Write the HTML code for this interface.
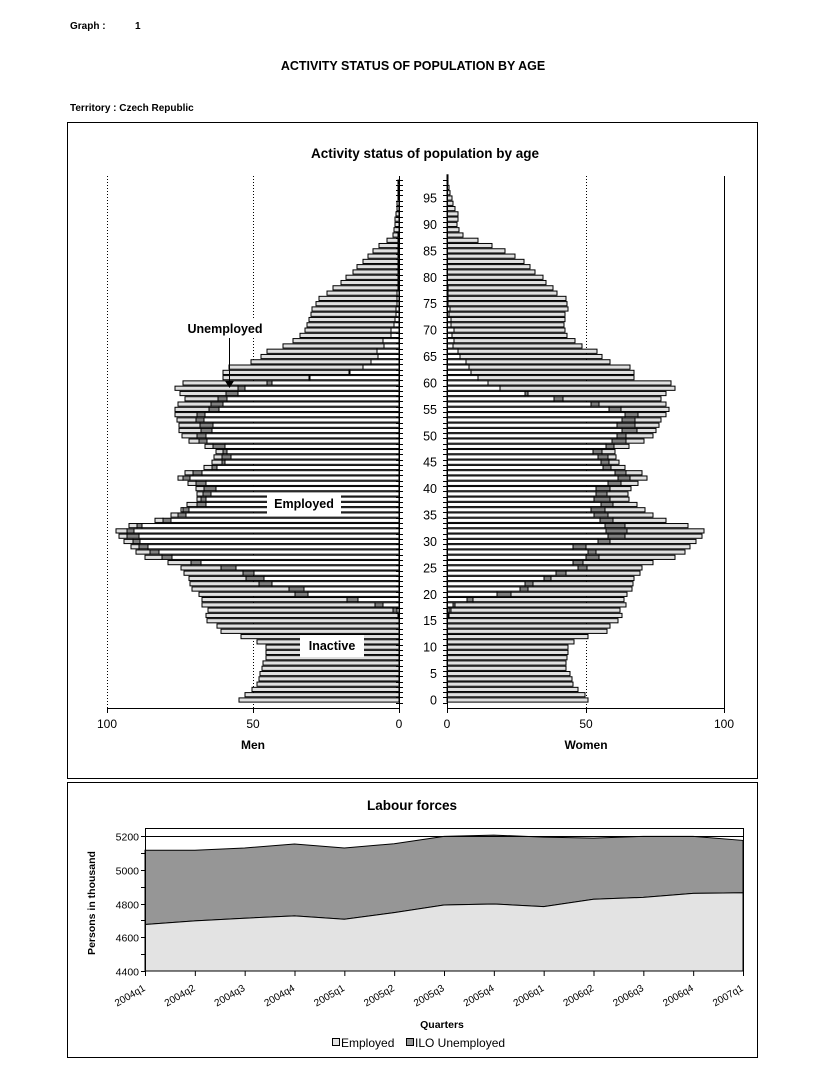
<!DOCTYPE html>
<html><head><meta charset="utf-8">
<style>
body{margin:0;background:#fff;width:824px;height:1068px;overflow:hidden;font-family:"Liberation Sans",Arial,sans-serif}
svg{position:absolute;left:0;top:0}
</style></head><body>
<svg id="s" width="824" height="1068" xmlns="http://www.w3.org/2000/svg" font-family="Liberation Sans, Arial, sans-serif">
<text x="70" y="29" font-size="10" font-weight="bold">Graph :</text>
<text x="135" y="29" font-size="10" font-weight="bold">1</text>
<text x="413" y="70" font-size="12.5" font-weight="bold" text-anchor="middle">ACTIVITY STATUS OF POPULATION BY AGE</text>
<text x="70" y="111" font-size="10" font-weight="bold">Territory :   Czech Republic</text>
<rect x="67.5" y="122.5" width="690" height="656" fill="none" stroke="#000"/>
<text x="425" y="158" font-size="13.5" font-weight="bold" text-anchor="middle">Activity status of population by age</text>
<line x1="107.5" y1="176" x2="107.5" y2="708" stroke="#000" stroke-dasharray="1,2"/>
<line x1="253.5" y1="176" x2="253.5" y2="708" stroke="#000" stroke-dasharray="1,2"/>
<line x1="586.5" y1="176" x2="586.5" y2="708" stroke="#000" stroke-dasharray="1,2"/>
<line x1="724.5" y1="176" x2="724.5" y2="708" stroke="#000"/>
<g id="bars"></g>
<g id="ax"></g>
<line x1="107" y1="708.5" x2="399" y2="708.5" stroke="#000"/>
<line x1="447" y1="708.5" x2="725" y2="708.5" stroke="#000"/>
<g stroke="#000"><line x1="107.5" y1="708" x2="107.5" y2="713"/><line x1="253.5" y1="708" x2="253.5" y2="713"/><line x1="399.5" y1="708" x2="399.5" y2="713"/><line x1="447.5" y1="708" x2="447.5" y2="713"/><line x1="586.5" y1="708" x2="586.5" y2="713"/><line x1="724.5" y1="708" x2="724.5" y2="713"/></g>
<g font-size="12" text-anchor="middle"><text x="107" y="728">100</text><text x="253" y="728">50</text><text x="399" y="728">0</text><text x="447" y="728">0</text><text x="586" y="728">50</text><text x="724" y="728">100</text></g>
<text x="253" y="749" font-size="12" font-weight="bold" text-anchor="middle">Men</text>
<text x="586" y="749" font-size="12" font-weight="bold" text-anchor="middle">Women</text>
<rect x="182" y="319" width="86" height="18" fill="#fff"/>
<text x="225" y="333" font-size="12.5" font-weight="bold" text-anchor="middle">Unemployed</text>
<line x1="229.5" y1="338" x2="229.5" y2="382" stroke="#000"/>
<polygon points="225,381 234,381 229.5,388" fill="#000"/>
<rect x="267" y="493" width="74" height="21" fill="#fff"/>
<text x="304" y="508" font-size="12.5" font-weight="bold" text-anchor="middle">Employed</text>
<rect x="300" y="635" width="64" height="22" fill="#fff"/>
<text x="332" y="650" font-size="12.5" font-weight="bold" text-anchor="middle">Inactive</text>

<rect x="67.5" y="782.5" width="690" height="275" fill="none" stroke="#000"/>
<text x="412" y="810" font-size="13.5" font-weight="bold" text-anchor="middle">Labour forces</text>
<g id="lf"></g>
</svg>
<script>
var NS="http://www.w3.org/2000/svg";
function el(p,t,a,txt){var e=document.createElementNS(NS,t);for(var k in a)e.setAttribute(k,a[k]);if(txt!=null)e.textContent=txt;p.appendChild(e);return e;}
var mT=[160,154,147,142,140,139,137,136,133,133,133,142,158,178,182,192,193,191,197,197,200,207,209,210,215,218,231,254,263,268,275,280,283,270,244,228,218,212,202,202,203,211,221,214,195,187,185,183,194,210,217,220,220,222,224,224,221,214,219,224,216,176,176,170,148,138,132,116,106,99,94,92,90,88,87,83,80,72,66,58,53,46,42,36,31,26,20,12,6,5,4,4,3,2,2,1,1,1,1,0,0];
var mE={16:1,17:2,18:16,19:41,20:91,21:95,22:127,23:135,24:145,25:163,26:198,27:227,28:240,29:251,30:259,31:260,32:265,33:257,34:228,35:213,36:210,37:193,38:193,39:188,40:183,41:193,42:209,43:197,44:182,45:174,46:168,47:172,48:174,49:192,50:193,51:187,52:186,53:195,54:194,55:180,56:176,57:172,58:161,59:154,60:127,61:89,62:49,63:36,64:28,65:21,66:22,67:15,68:16,69:8,70:8,71:5,72:4,73:3,74:3,75:2,76:2,77:2,78:1,79:1,80:1,81:1,82:1,83:1,84:1,85:1,86:1,87:1,88:1};
var mU={17:6,18:24,19:52,20:104,21:110,22:140,23:153,24:156,25:178,26:208,27:237,28:249,29:260,30:266,31:272,32:272,33:262,34:236,35:221,36:216,37:202,38:198,39:196,40:195,41:203,42:216,43:206,44:187,45:177,46:177,47:176,48:186,49:200,50:202,51:198,52:199,53:203,54:202,55:190,56:188,57:181,58:173,59:161,60:132,61:90,62:50};
var wT=[141,138,131,126,125,123,119,119,120,121,121,127,141,160,163,171,175,173,179,177,180,185,186,187,193,195,206,228,238,243,249,255,257,241,219,206,198,190,182,181,184,191,200,195,178,172,169,168,182,197,206,209,212,214,219,222,219,214,219,228,224,187,187,183,163,155,150,135,128,120,118,117,118,118,121,120,119,110,106,99,96,88,83,77,68,58,45,31,16,12,10,11,11,8,6,5,3,2,1,1,0];
var wE={16:1,17:2,18:6,19:20,20:50,21:73,22:78,23:97,24:109,25:131,26:126,27:139,28:141,29:126,30:151,31:161,32:159,33:158,34:153,35:147,36:144,37:154,38:147,39:149,40:149,41:161,42:171,43:168,44:156,45:154,46:151,47:146,48:159,49:165,50:170,51:175,52:170,53:175,54:178,55:162,56:144,57:107,58:78,59:53,60:41,61:31,62:24,63:22,64:19,65:13,66:11,67:6,68:7,69:5,70:7,71:4,72:4,73:2,74:3,75:1,76:1,77:1,78:1};
var wU={16:2,17:4,18:8,19:26,20:64,21:81,22:86,23:104,24:119,25:140,26:136,27:152,28:149,29:139,30:163,31:178,32:180,33:178,34:166,35:161,36:158,37:166,38:163,39:160,40:163,41:174,42:183,43:179,44:164,45:162,46:161,47:155,48:167,49:179,50:179,51:190,52:188,53:188,54:191,55:174,56:152,57:116,58:81};
var g=document.getElementById('bars'),BH=4.2;
function seg(x1,x2,y,f){if(x2-x1<0.5)return;el(g,'rect',{x:x1,y:y,width:x2-x1,height:BH,fill:f,stroke:'#000','stroke-width':1});}
for(var a=0;a<=100;a++){
 var yc=700-5.284*a,y=yc-BH/2;
 var T=mT[a],E=mE[a]||0,U=mU[a]||E;
 if(T>0){seg(399-T,399-U,y,'#e0e0e0');seg(399-U,399-E,y,'#808080');seg(399-E,399,y,'#fff');}
 T=wT[a];E=wE[a]||0;U=wU[a]||E;
 if(T>0){seg(447+U,447+T,y,'#e0e0e0');seg(447+E,447+U,y,'#808080');seg(447,447+E,y,'#fff');}
}
var ax=document.getElementById('ax');
el(ax,'line',{x1:399.5,y1:176,x2:399.5,y2:708,stroke:'#000'});
el(ax,'line',{x1:447.5,y1:176,x2:447.5,y2:708,stroke:'#000'});
for(var a=0;a<=99;a++){var yy=Math.round(700-5.284*a+2.64)+0.5;
 el(ax,'line',{x1:396,y1:yy,x2:403,y2:yy,stroke:'#000'});
 el(ax,'line',{x1:443,y1:yy,x2:448,y2:yy,stroke:'#000'});
 if(a%5==0)el(ax,'text',{x:437,y:700-5.284*a+4.5,'font-size':12.5,'text-anchor':'end'},String(a));}
var lf=document.getElementById('lf');
var X0=145,X1=743;function Y(v){return 971-(v-4400)*0.16875;}
var emp=[924.5,920.9,918.2,915.9,919.2,912.6,905.0,904.0,906.6,899.3,897.4,893.4,892.7];
var tot=[850.3,850.3,848.0,844.0,848.0,843.7,836.4,835.1,837.1,838.1,836.4,836.4,840.4];
var dx=(X1-X0)/12,pe='',pt='';
for(var i=0;i<13;i++){pe+=(X0+i*dx)+','+emp[i]+' ';pt+=(X0+i*dx)+','+tot[i]+' ';}
var rev='';for(var i=12;i>=0;i--)rev+=(X0+i*dx)+','+emp[i]+' ';
el(lf,'polygon',{points:pt+rev,fill:'#969696',stroke:'#000','stroke-width':1});
el(lf,'polygon',{points:pe+X1+',971 '+X0+',971',fill:'#e3e3e3',stroke:'#000','stroke-width':1});
el(lf,'rect',{x:X0+0.5,y:828.5,width:X1-X0,height:142.5,fill:'none',stroke:'#000'});
el(lf,'line',{x1:X0,y1:Y(5200)+0.5,x2:X1,y2:Y(5200)+0.5,stroke:'#000'});
for(var v=4400;v<=5200;v+=100){var yy=Math.round(Y(v))+0.5;el(lf,'line',{x1:X0-4,y1:yy,x2:X0,y2:yy,stroke:'#000'});
 if(v%200==0)el(lf,'text',{x:X0-6,y:yy+4,'font-size':10.5,'text-anchor':'end'},String(v));}
var q=['2004q1','2004q2','2004q3','2004q4','2005q1','2005q2','2005q3','2005q4','2006q1','2006q2','2006q3','2006q4','2007q1'];
for(var i=0;i<13;i++){var x=X0+i*dx;el(lf,'line',{x1:x+0.5,y1:971,x2:x+0.5,y2:976,stroke:'#000'});
 el(lf,'text',{x:x+1,y:990,'font-size':10,'text-anchor':'end',transform:'rotate(-30 '+(x+1)+' 990)'},q[i]);}
el(lf,'text',{x:95,y:903,'font-size':10.5,'font-weight':'bold','text-anchor':'middle',transform:'rotate(-90 95 903)'},'Persons in thousand');
el(lf,'text',{x:442,y:1028,'font-size':10.5,'font-weight':'bold','text-anchor':'middle'},'Quarters');
el(lf,'rect',{x:332.5,y:1038.5,width:7,height:7,fill:'#e3e3e3',stroke:'#000'});
el(lf,'text',{x:341,y:1047,'font-size':12},'Employed');
el(lf,'rect',{x:406.5,y:1038.5,width:7,height:7,fill:'#969696',stroke:'#000'});
el(lf,'text',{x:415,y:1047,'font-size':12},'ILO Unemployed');
</script>
</body></html>
